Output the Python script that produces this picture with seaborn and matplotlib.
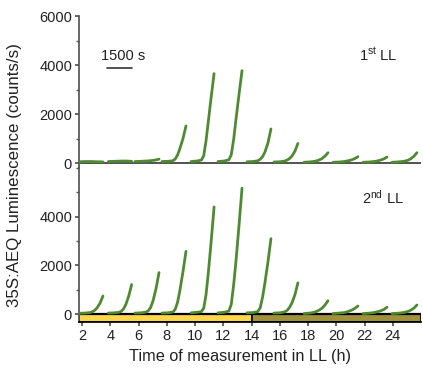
import numpy as np
import pandas as pd
import matplotlib
matplotlib.use("Agg")
import matplotlib.pyplot as plt
import seaborn as sns

# measurement windows (h in LL) and relative sample points inside a window
seg_start = [1.77, 3.85, 5.74, 7.65, 9.71, 11.62, 13.67, 15.58, 17.71, 19.76, 21.89, 23.94]
seg_end = [3.47, 5.50, 7.44, 9.35, 11.34, 13.32, 15.37, 17.28, 19.41, 21.53, 23.59, 25.71]
frac = [0.0, 0.25, 0.45, 0.55, 0.65, 0.75, 0.875, 1.0]

# luminescence (counts/s), first LL
first_ll = [
    [50, 60, 60, 60, 55, 50, 50, 45],
    [60, 70, 75, 80, 80, 80, 75, 70],
    [60, 70, 80, 85, 95, 105, 125, 160],
    [60, 70, 90, 160, 330, 600, 1000, 1510],
    [60, 80, 120, 300, 900, 1700, 2700, 3650],
    [60, 80, 130, 330, 950, 1800, 2800, 3770],
    [50, 60, 90, 150, 260, 450, 820, 1390],
    [40, 50, 80, 120, 180, 280, 480, 800],
    [30, 45, 70, 95, 130, 180, 280, 420],
    [30, 40, 60, 80, 100, 130, 180, 260],
    [30, 40, 60, 75, 95, 125, 170, 245],
    [30, 45, 65, 85, 115, 170, 270, 420],
]

# luminescence (counts/s), second LL
second_ll = [
    [40, 50, 70, 100, 160, 260, 450, 750],
    [50, 60, 80, 120, 220, 400, 750, 1220],
    [50, 60, 90, 140, 280, 550, 1050, 1710],
    [50, 60, 90, 200, 500, 1000, 1750, 2580],
    [60, 80, 110, 250, 800, 1700, 3000, 4400],
    [60, 80, 130, 400, 1200, 2200, 3650, 5170],
    [60, 70, 110, 260, 700, 1300, 2150, 3100],
    [50, 60, 100, 160, 280, 460, 800, 1290],
    [30, 50, 90, 130, 180, 250, 380, 555],
    [30, 50, 70, 95, 130, 170, 240, 340],
    [30, 45, 70, 90, 115, 145, 200, 290],
    [30, 45, 70, 90, 120, 165, 250, 380],
]

# light regime bar below second LL
bar_start = [1.77, 14.0]
bar_end = [14.0, 26.0]
bar_colors = ["#fdd64b", "#a0923a"]

GREEN = "#4f8a33"
TXT = "#222222"


def to_frame(values):
    rows = []
    for i, vals in enumerate(values):
        for f, v in zip(frac, vals):
            t = seg_start[i] + f * (seg_end[i] - seg_start[i])
            rows.append({"seg": i, "time": t, "lum": v})
    return pd.DataFrame(rows)


sns.set_theme(style="ticks")
plt.rcParams["font.family"] = ["Liberation Sans", "DejaVu Sans"]
plt.rcParams["mathtext.fontset"] = "custom"
plt.rcParams["mathtext.rm"] = "Liberation Sans"
plt.rcParams["mathtext.it"] = "Liberation Sans"

fig = plt.figure(figsize=(4.23, 3.72), dpi=100)
left, right = 79 / 423, 421 / 423
ax1 = fig.add_axes([left, 1 - 167 / 372, right - left, (167 - 16) / 372])
ax2 = fig.add_axes([left, 1 - 322 / 372, right - left, (322 - 167) / 372])

for ax in (ax1, ax2):
    ax.set_facecolor("none")
    ax.set_xlim(1.77, 26.0)
    for s in ("top", "right"):
        ax.spines[s].set_visible(False)
    ax.spines["left"].set_color("#555555")
    ax.tick_params(axis="y", which="major", length=3, color="#555555",
                   labelsize=10.5, labelcolor=TXT, pad=2)
    ax.tick_params(axis="y", which="minor", length=2.5, color="#555555")

# first LL
df1 = to_frame(first_ll)
ax1.axhline(0, color="#444444", lw=1.3, zorder=1)
sns.lineplot(data=df1, x="time", y="lum", units="seg", estimator=None,
             color=GREEN, lw=2.0, ax=ax1, zorder=3)
ax1.set_ylim(-163, 6000)
ax1.set_yticks([0, 2000, 4000, 6000])
ax1.set_yticks([1000, 3000, 5000], minor=True)
ax1.spines["bottom"].set_visible(False)
ax1.set_xticks([])
ax1.set_xlabel("")
ax1.set_ylabel("")
ax1.plot([3.76, 5.53], [3880, 3880], color="#333333", lw=1.2)
ax1.text(4.93, 4380, "1500 s", ha="center", va="center", fontsize=10.5, color=TXT)
ax1.text(22.95, 4410, r"1$^{\mathrm{st}}$ LL", ha="center", va="center",
         fontsize=10.5, color=TXT)

# second LL
df2 = to_frame(second_ll)
ax2.set_ylim(-316, 6037)
ax2.broken_barh([(s, e - s) for s, e in zip(bar_start, bar_end)], (-316, 316),
                facecolors=bar_colors, edgecolor="black", lw=1.2, zorder=1)
ax2.axhline(0, color="black", lw=1.6, zorder=2)
sns.lineplot(data=df2, x="time", y="lum", units="seg", estimator=None,
             color=GREEN, lw=2.0, ax=ax2, zorder=3)
ax2.set_yticks([0, 2000, 4000])
ax2.set_yticks([1000, 3000, 5000, 6000], minor=True)
ax2.set_xticks(np.arange(2, 25, 2))
ax2.spines["bottom"].set_color("black")
ax2.tick_params(axis="x", length=3, color="#555555", labelsize=10.5,
                labelcolor=TXT, pad=2)
ax2.set_xlabel("")
ax2.set_ylabel("")
ax2.text(23.3, 4770, r"2$^{\mathrm{nd}}$ LL", ha="center", va="center",
         fontsize=10.5, color=TXT)

fig.text(240 / 423, 1 - 357 / 372, "Time of measurement in LL (h)",
         ha="center", va="center", fontsize=11.7, color=TXT)
fig.text(15 / 423, 1 - 175 / 372, "35S:AEQ Luminescence (counts/s)",
         ha="center", va="center", rotation=90, fontsize=12.2, color=TXT)

fig.savefig("out.png", dpi=100)
